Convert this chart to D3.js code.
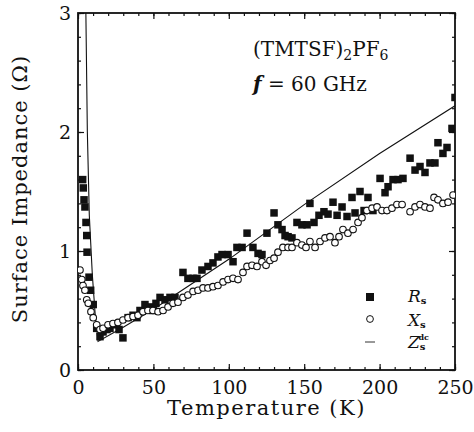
<!DOCTYPE html>
<html>
<head>
<meta charset="utf-8">
<script src="https://cdn.jsdelivr.net/npm/d3@7"></script>
<style>
  body { margin: 0; background: #fff; }
  svg { display: block; font-family: "DejaVu Serif", "Liberation Serif", serif; }
</style>
</head>
<body>
<svg id="chart"></svg>
<script>
// R_s (filled squares): temperature (K) and value (ohm)
const rsT = [3.1, 3.5, 4.0, 4.6, 5.3, 5.8, 6.0, 7.3, 8.4, 10.1, 12.4, 14.6, 16.6, 19.2, 21.2, 24.5, 27.2, 29.8,
  33.2, 36.5, 39.1, 41.1, 44.4, 47.7, 49.7, 51.7, 54.4, 57.7, 61.0, 64.3, 69.6, 72.9, 76.3, 78.9, 82.2, 86.2,
  89.5, 92.8, 95.5, 99.5, 102.8, 105.4, 108.8, 112.1, 116.0, 119.4, 122.0, 125.3, 130.0, 132.6, 135.3, 137.3,
  139.3, 141.9, 145.2, 148.5, 151.9, 153.8, 156.5, 159.8, 163.1, 165.8, 169.1, 171.8, 175.1, 178.4, 181.7,
  183.7, 187.0, 189.7, 192.3, 195.6, 200.3, 203.6, 205.6, 208.9, 212.2, 215.5, 220.2, 223.5, 226.8, 230.1,
  233.4, 236.7, 238.7, 242.0, 244.7, 248.0, 250.0];
const rsZ = [1.60, 1.53, 1.43, 1.37, 1.24, 1.13, 0.99, 0.78, 0.67, 0.55, 0.35, 0.28, 0.32, 0.34, 0.35, 0.38, 0.34, 0.27,
  0.44, 0.46, 0.44, 0.50, 0.55, 0.53, 0.50, 0.56, 0.61, 0.59, 0.61, 0.61, 0.82, 0.77, 0.77, 0.77, 0.84, 0.87,
  0.90, 0.95, 0.97, 0.97, 0.91, 1.03, 1.03, 1.15, 1.03, 0.98, 0.97, 1.15, 1.32, 1.22, 1.18, 1.13,
  1.12, 1.11, 1.24, 1.22, 1.22, 1.40, 1.24, 1.30, 1.33, 1.31, 1.41, 1.30, 1.37, 1.29, 1.45,
  1.32, 1.50, 1.34, 1.45, 1.34, 1.61, 1.49, 1.54, 1.60, 1.60, 1.61, 1.78, 1.68, 1.71, 1.66,
  1.74, 1.74, 1.91, 1.82, 1.87, 2.03, 2.29];

// X_s (open circles)
const xsT = [1.3, 2.5, 3.3, 4.6, 5.8, 6.8, 8.6, 10.1, 12.4, 14.6, 16.6, 19.9, 23.2, 26.5, 29.8, 33.2, 36.5, 39.8,
  43.1, 46.4, 49.7, 53.1, 56.4, 59.7, 63.0, 66.3, 69.6, 72.9, 76.3, 79.6, 82.9, 86.2, 89.5, 92.8, 96.2, 99.5,
  102.8, 106.1, 109.4, 112.1, 115.4, 118.7, 122.0, 124.7, 127.3, 130.0, 132.6, 135.9, 139.3, 141.9, 145.2,
  148.5, 151.2, 153.8, 157.2, 160.5, 163.8, 167.1, 170.4, 173.1, 175.7, 179.0, 182.4, 185.7, 188.3, 191.6,
  195.0, 198.3, 201.6, 204.9, 208.2, 211.5, 214.9, 220.2, 223.5, 226.8, 230.1, 233.4, 236.1, 238.7, 242.0,
  245.4, 248.7];
const xsZ = [0.84, 0.76, 0.71, 0.67, 0.59, 0.56, 0.49, 0.44, 0.38, 0.34, 0.35, 0.38, 0.39, 0.40, 0.42, 0.44, 0.45, 0.46,
  0.49, 0.50, 0.50, 0.49, 0.50, 0.53, 0.56, 0.57, 0.61, 0.63, 0.66, 0.67, 0.69, 0.69, 0.70, 0.71, 0.74, 0.76,
  0.77, 0.76, 0.82, 0.87, 0.88, 0.87, 0.91, 0.88, 0.92, 0.94, 0.99, 1.03, 1.03, 1.03, 1.07,
  1.05, 1.03, 1.08, 1.03, 1.08, 1.11, 1.12, 1.07, 1.12, 1.18, 1.15, 1.18, 1.24, 1.28, 1.34,
  1.36, 1.37, 1.34, 1.34, 1.36, 1.39, 1.39, 1.33, 1.37, 1.39, 1.37, 1.36, 1.45, 1.43, 1.40,
  1.41, 1.47];

// Z_s^dc (solid line)
const zdcT = [5.2, 6.2, 7.5, 9.5, 11.5, 13.3, 30, 50, 100, 150, 200, 250];
const zdcZ = [3.02, 2.0, 1.3, 0.8, 0.45, 0.24, 0.36, 0.51, 0.93, 1.39, 1.82, 2.22];

const xMajor = [0, 50, 100, 150, 200, 250];
const yMajor = [0, 1, 2, 3];

const width = 474, height = 432;
const margin = {top: 13, right: 19, bottom: 62, left: 78};
const w = width - margin.left - margin.right;
const h = height - margin.top - margin.bottom;

const svg = d3.select("#chart").attr("width", width).attr("height", height);
const chart = svg.append("g").attr("transform", "translate(" + margin.left + "," + margin.top + ")");

const x = d3.scaleLinear().domain([0, 250]).range([0, w]);
const y = d3.scaleLinear().domain([0, 3]).range([h, 0]);

svg.append("clipPath").attr("id", "clip")
  .append("rect").attr("width", w).attr("height", h);

// ticks, all pointing inwards
const xMinor = d3.range(0, 251, 10);
const yMinor = d3.range(0, 3.01, 0.2);

const sides = [
  [() => d3.axisBottom(x), "translate(0," + h + ")", xMinor, xMajor, "xlab"],
  [() => d3.axisTop(x), "translate(0,0)", xMinor, xMajor, null],
  [() => d3.axisLeft(y), "translate(0,0)", yMinor, yMajor, "ylab"],
  [() => d3.axisRight(y), "translate(" + w + ",0)", yMinor, yMajor, null],
];
sides.forEach(([mk, tr, minor, major, cls]) => {
  chart.append("g").attr("transform", tr)
    .call(mk().tickValues(minor).tickSize(-3).tickSizeOuter(0).tickFormat(""));
  chart.append("g").attr("class", cls || "nolab").attr("transform", tr)
    .call(mk().tickValues(major).tickSize(-6).tickSizeOuter(0).tickFormat(cls ? d3.format("d") : ""));
});
chart.selectAll(".domain").remove();
chart.selectAll(".tick line").attr("stroke", "#111").attr("stroke-width", 1.2);
chart.selectAll(".tick text").attr("fill", "#111").style("font-size", "19px")
  .style("font-family", "DejaVu Serif, serif");
chart.select(".xlab").selectAll("text").attr("y", 6).attr("dy", "0.95em");
chart.select(".ylab").selectAll("text").attr("x", -7).attr("dy", "0.35em");

chart.append("rect").attr("width", w).attr("height", h)
  .attr("fill", "none").attr("stroke", "#111").attr("stroke-width", 1.8);

const plot = chart.append("g").attr("clip-path", "url(#clip)");

const line = d3.line().x(d => x(d[0])).y(d => y(d[1]));
plot.append("path")
  .datum(zdcT.map((t, i) => [t, zdcZ[i]]))
  .attr("fill", "none").attr("stroke", "#111").attr("stroke-width", 1.1)
  .attr("d", line);

const sq = 7.5;
plot.selectAll("rect.rs")
  .data(rsT.map((t, i) => [t, rsZ[i]]))
  .enter().append("rect").attr("class", "rs")
  .attr("x", d => x(d[0]) - sq / 2).attr("y", d => y(d[1]) - sq / 2)
  .attr("width", sq).attr("height", sq).attr("fill", "#111");

plot.selectAll("circle.xs")
  .data(xsT.map((t, i) => [t, xsZ[i]]))
  .enter().append("circle").attr("class", "xs")
  .attr("cx", d => x(d[0])).attr("cy", d => y(d[1])).attr("r", 3.3)
  .attr("fill", "#fff").attr("stroke", "#111").attr("stroke-width", 1.1);

// legend
const lg = svg.append("g").attr("transform", "translate(370,297)");
lg.append("rect").attr("x", -4).attr("y", -4).attr("width", 8).attr("height", 8).attr("fill", "#111");
lg.append("circle").attr("cx", 0).attr("cy", 22).attr("r", 3.4).attr("fill", "none").attr("stroke", "#111");
lg.append("line").attr("x1", -5).attr("x2", 5).attr("y1", 45).attr("y2", 45).attr("stroke", "#333");
const legTxt = [["R", "s", null, 5], ["X", "s", null, 29], ["Z", "s", "dc", 51]];
legTxt.forEach(([a, sub, sup, by]) => {
  const t = lg.append("text").attr("x", 38).attr("y", by).style("font-size", "17px").attr("fill", "#111");
  t.append("tspan").style("font-style", "italic").text(a);
  t.append("tspan").attr("dy", 2).style("font-size", "10px").style("font-weight", "bold").text(sub);
  if (sup) {
    t.append("tspan").attr("dx", -7).attr("dy", -10).style("font-size", "8px").style("font-weight", "bold").text(sup);
  }
});

// annotation
const ann = svg.append("g").style("font-size", "20px").attr("fill", "#111");
const t1 = ann.append("text").attr("x", 253).attr("y", 56);
t1.append("tspan").text("(TMTSF)");
t1.append("tspan").attr("dy", 4).style("font-size", "14px").text("2");
t1.append("tspan").attr("dy", -4).text("PF");
t1.append("tspan").attr("dy", 4).style("font-size", "14px").text("6");
const t2 = ann.append("text").attr("x", 253).attr("y", 91);
t2.append("tspan").style("font-style", "italic").style("font-weight", "bold").text("f");
t2.append("tspan").text(" = 60 GHz");

// axis titles
svg.append("text").attr("x", margin.left + w / 2).attr("y", 415).attr("text-anchor", "middle")
  .style("font-size", "21px").style("letter-spacing", "1.5px").attr("fill", "#111")
  .text("Temperature (K)");
svg.append("text").attr("transform", "translate(27,189) rotate(-90)")
  .attr("text-anchor", "middle").style("font-size", "21px").style("letter-spacing", "1px")
  .attr("fill", "#111").text("Surface Impedance (\u03A9)");
</script>
</body>
</html>
